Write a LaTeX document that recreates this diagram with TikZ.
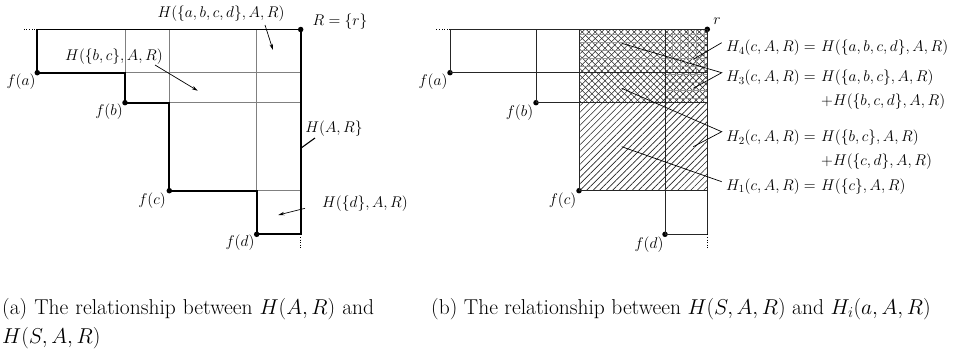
\RequirePackage{fix-cm}
\documentclass[tikz,border=0pt]{standalone}
\usetikzlibrary{arrows.meta,patterns.meta}
\begin{document}
\begin{tikzpicture}[x=1pt,y=-1pt,
  every node/.style={font=\fontsize{15.5}{18}\selectfont,inner sep=0pt},
  dot/.style={circle,fill=black,inner sep=0pt,minimum size=5.5pt},
  thickline/.style={line width=1.8pt,line join=miter},
  thinline/.style={line width=0.7pt,black!50},
  bline/.style={line width=0.8pt,black!85},
  lead/.style={line width=0.7pt,black},
  arr/.style={line width=0.7pt,-{Stealth[length=6pt,width=3.5pt]}},
  dotline/.style={line width=0.6pt,dotted},
  captext/.style={font=\fontsize{21.5}{25}\selectfont,anchor=base west},
  lab/.style={anchor=base west}]
\useasboundingbox (0,0) rectangle (954,354);
% ---------------- panel (a) ----------------
\node[dot] (fa) at (37.3,72.7) {};
\node[dot] (fb) at (125,102.7) {};
\node[dot] (fc) at (169.3,190.7) {};
\node[dot] (fd) at (256.7,234.3) {};
\node[dot] (R) at (300.7,29.5) {};
\coordinate (ra) at (fa.center -| R.center);
\coordinate (rb) at (fb.center -| R.center);
\coordinate (rc) at (fc.center -| R.center);
\coordinate (rd) at (fd.center -| R.center);
\coordinate (ta) at (fa.center |- R.center);
\coordinate (tb) at (fb.center |- R.center);
\coordinate (tc) at (fc.center |- R.center);
\coordinate (td) at (fd.center |- R.center);
\coordinate (dl) at (22.5,29.5);
\coordinate (dr) at (300.7,248);
\draw[thinline] (fa.center) -- (ra) (fb.center) -- (rb) (fc.center) -- (rc);
\draw[thinline] (tb) -- (fb.center) (tc) -- (fc.center) (td) -- (fd.center);
\draw[thickline] (R.center) -- (ta) -- (fa.center) -- (fa.center -| fb.center) -- (fb.center)
  -- (fb.center -| fc.center) -- (fc.center) -- (fc.center -| fd.center) -- (fd.center)
  -- (rd) -- cycle;
\draw[dotline] (ta) -- (dl);
\draw[dotline] (rd) -- (dr);
\node (lfa) at (21,82) {$f(a)$};
\node (lfb) at (109,112) {$f(b)$};
\node (lfc) at (152,201) {$f(c)$};
\node (lfd) at (240,243) {$f(d)$};
\node (lR) at (340,22) {$R=\{r\}$};
\node (Habcd) at (221,14) {$H(\{a,b,c,d\},A,R)$};
\node (Hbc) at (114,57) {$H(\{b,c\},A,R)$};
\node (HAR) at (334,129) {$H(A,R\}$};
\node (Hd) at (365,204) {$H(\{d\},A,R)$};
\coordinate (a1s) at (265,25); \coordinate (a1e) at (273,50);
\coordinate (a2s) at (155,65); \coordinate (a2e) at (197.7,90.7);
\coordinate (a3s) at (315,138); \coordinate (a3e) at (300.7,148.3);
\coordinate (a4s) at (305,208.3); \coordinate (a4e) at (278.3,215);
\draw[arr] (a1s) -- (a1e);
\draw[arr] (a2s) -- (a2e);
\draw[line width=1.1pt] (a3s) -- (a3e);
\draw[arr] (a4s) -- (a4e);
% ---------------- panel (b) ----------------
\fill[pattern={Lines[angle=45,distance=4.6pt,line width=0.6pt]},pattern color=black!85] (579,29.3) rectangle (707.3,190.7);
\fill[pattern={Lines[angle=-45,distance=4.6pt,line width=0.6pt]},pattern color=black!85] (579,29.3) rectangle (707.3,102.7);
\fill[pattern={Lines[angle=0,distance=8pt,line width=0.6pt]},pattern color=black!40] (579,29.3) rectangle (707.3,72.7);
\fill[pattern={Lines[angle=0,distance=8pt,line width=0.6pt]},pattern color=black!40] (665,72.7) rectangle (707.3,102.7);
\fill[pattern={Lines[angle=90,distance=8pt,line width=0.6pt]},pattern color=black!40] (665,29.3) rectangle (707.3,72.7);
\node[dot] (ga) at (450,72.7) {};
\node[dot] (gb) at (536,102.7) {};
\node[dot] (gc) at (579,190.7) {};
\node[dot] (gd) at (665,234.3) {};
\node[dot] (r) at (707.3,29.3) {};
\coordinate (sa) at (ga.center -| r.center);
\coordinate (sb) at (gb.center -| r.center);
\coordinate (sc) at (gc.center -| r.center);
\coordinate (sd) at (gd.center -| r.center);
\coordinate (ua) at (ga.center |- r.center);
\coordinate (ub) at (gb.center |- r.center);
\coordinate (uc) at (gc.center |- r.center);
\coordinate (ud) at (gd.center |- r.center);
\coordinate (el) at (435,29.3);
\coordinate (er) at (707.3,248);
\draw[bline] (ua) -- (r.center) -- (sd);
\draw[bline] (ua) -- (ga.center) -- (sa);
\draw[bline] (ub) -- (gb.center) -- (sb);
\draw[bline] (uc) -- (gc.center) -- (sc);
\draw[bline] (ud) -- (gd.center) -- (sd);
\draw[dotline] (ua) -- (el);
\draw[dotline] (sd) -- (er);
\node (lr) at (717,21) {$r$};
\node (lga) at (433,82) {$f(a)$};
\node (lgb) at (519.5,113) {$f(b)$};
\node (lgc) at (562.5,201) {$f(c)$};
\node (lgd) at (649,245) {$f(d)$};
% labels
\node[lab] (L4) at (726,51.7) {$H_4(c,A,R) =$};
\node[lab] (R4) at (821,51.7) {$H(\{a,b,c,d\},A,R)$};
\node[lab] (L3) at (726,81.7) {$H_3(c,A,R) =$};
\node[lab] (R3) at (821,81.7) {$H(\{a,b,c\},A,R)$};
\node[lab] (R3b) at (821,105) {$+H(\{b,c,d\},A,R)$};
\node[lab] (L2) at (726,141.7) {$H_2(c,A,R) =$};
\node[lab] (R2) at (821,141.7) {$H(\{b,c\},A,R)$};
\node[lab] (R2b) at (821,165) {$+H(\{c,d\},A,R)$};
\node[lab] (L1) at (726,190) {$H_1(c,A,R) =$};
\node[lab] (R1) at (821,190) {$H(\{c\},A,R)$};
\coordinate (k4) at (721.7,42.7); \coordinate (k4a) at (693.3,59.3);
\coordinate (k3) at (721.7,72.7); \coordinate (k3a) at (621.7,43.3); \coordinate (k3b) at (693.3,88.3);
\coordinate (k2) at (721.7,131.7); \coordinate (k2a) at (621.7,88.3); \coordinate (k2b) at (693.3,146.7);
\coordinate (k1) at (721.7,181.7); \coordinate (k1a) at (621.7,146.7);
\draw[lead] (k4) -- (k4a);
\draw[lead] (k3a) -- (k3) -- (k3b);
\draw[lead] (k2a) -- (k2) -- (k2b);
\draw[lead] (k1) -- (k1a);
% captions
\node[captext] (capa1) at (2,314) {\makebox[372pt][s]{(a) The relationship between $H(A,R)$ and}};
\node[captext] (capa2) at (2,343) {$H(S,A,R)$};
\node[captext] (capb) at (431,314) {(b) The relationship between $H(S,A,R)$ and $H_i(a,A,R)$};
\end{tikzpicture}
\end{document}
